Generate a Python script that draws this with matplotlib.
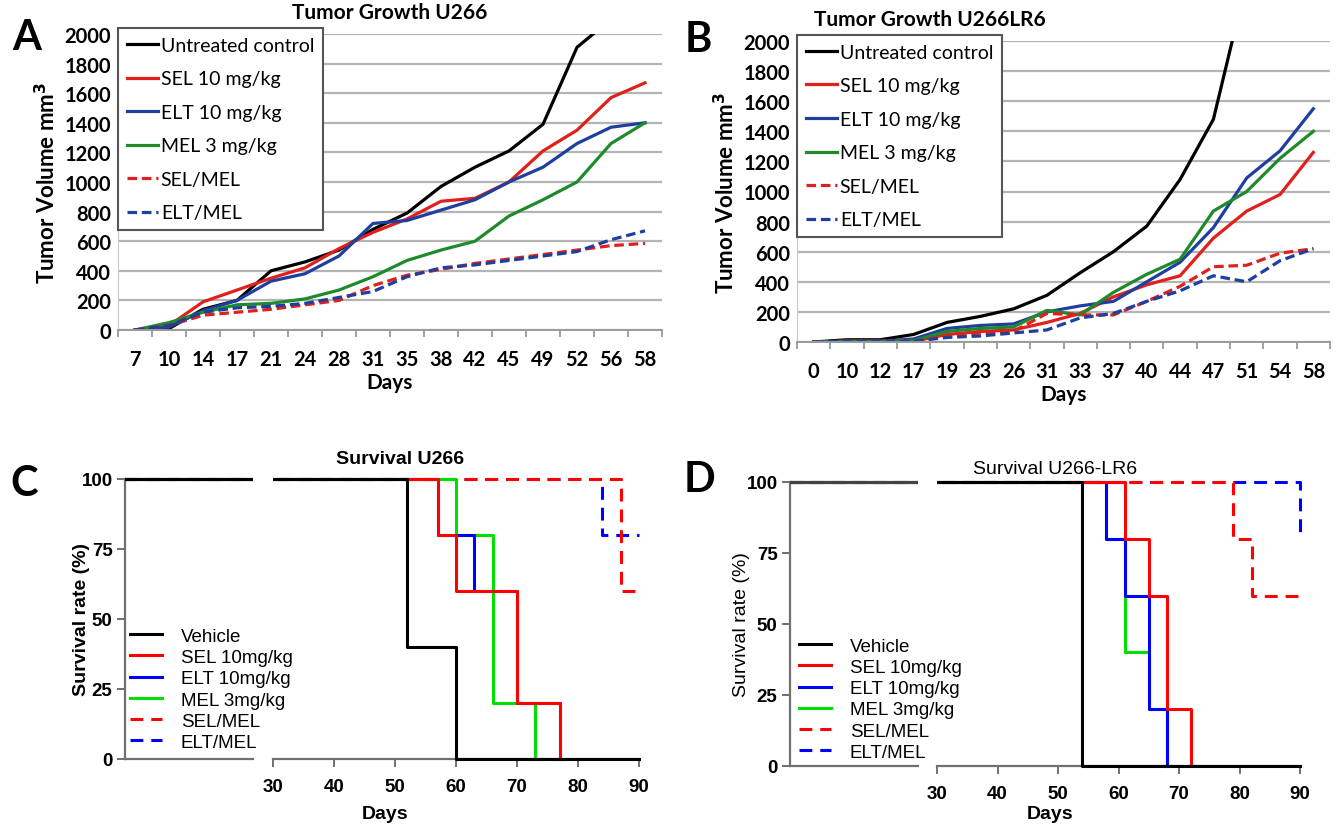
import numpy as np
import matplotlib
matplotlib.use("Agg")
import matplotlib.pyplot as plt
from matplotlib.lines import Line2D

# ---- tumor growth data ----
days_a = ['7', '10', '14', '17', '21', '24', '28', '31', '35', '38', '42', '45', '49', '52', '56', '58']
a_ctrl = [0, 10, 140, 200, 400, 460, 540, 680, 790, 970, 1100, 1210, 1390, 1910, 2100, 2400]
a_sel = [0, 30, 190, 270, 350, 420, 550, 660, 750, 870, 890, 1000, 1210, 1350, 1570, 1670]
a_elt = [0, 20, 130, 200, 330, 380, 500, 720, 740, 810, 880, 1000, 1100, 1260, 1370, 1400]
a_mel = [0, 50, 120, 170, 180, 210, 270, 360, 470, 540, 600, 770, 880, 1000, 1260, 1400]
a_selmel = [0, 30, 100, 120, 140, 170, 200, 300, 370, 410, 450, 480, 510, 540, 570, 585]
a_eltmel = [0, 30, 120, 150, 160, 180, 220, 260, 360, 420, 440, 470, 500, 530, 610, 670]

days_b = ['0', '10', '12', '17', '19', '23', '26', '31', '33', '37', '40', '44', '47', '51', '54', '58']
b_ctrl = [0, 15, 15, 50, 130, 170, 220, 310, 460, 600, 770, 1080, 1480, 2400, 2900, 3400]
b_sel = [0, 5, 5, 5, 50, 70, 80, 130, 190, 300, 380, 440, 690, 870, 980, 1260]
b_elt = [0, 5, 5, 20, 90, 110, 120, 200, 240, 270, 400, 530, 760, 1090, 1270, 1550]
b_mel = [0, 5, 5, 10, 70, 90, 100, 210, 180, 330, 450, 550, 870, 1000, 1220, 1400]
b_selmel = [0, 5, 5, 5, 40, 60, 70, 190, 180, 180, 270, 370, 500, 510, 590, 620]
b_eltmel = [0, 5, 5, 5, 30, 40, 60, 80, 160, 190, 270, 340, 440, 400, 540, 620]

growth_labels = ['Untreated control', 'SEL 10 mg/kg', 'ELT 10 mg/kg', 'MEL 3 mg/kg', 'SEL/MEL', 'ELT/MEL']

# ---- survival data (step curves: time, survival %) ----
c_veh_t, c_veh_s = [0, 52, 60, 90], [100, 40, 0, 0]
c_sel_t, c_sel_s = [0, 57, 60, 70, 77], [100, 80, 60, 20, 0]
c_elt_t, c_elt_s = [0, 57, 63, 70, 77], [100, 80, 60, 20, 0]
c_mel_t, c_mel_s = [0, 60, 66, 73], [100, 80, 20, 0]
c_selmel_t, c_selmel_s = [0, 87, 90], [100, 60, 60]
c_eltmel_t, c_eltmel_s = [0, 84, 90], [100, 80, 80]

d_veh_t, d_veh_s = [0, 54, 90], [100, 0, 0]
d_sel_t, d_sel_s = [0, 61, 65, 68, 72], [100, 80, 60, 20, 0]
d_elt_t, d_elt_s = [0, 58, 61, 65, 68], [100, 80, 60, 20, 0]
d_mel_t, d_mel_s = [0, 58, 61, 65, 68], [100, 80, 40, 20, 0]
d_selmel_t, d_selmel_s = [0, 79, 82, 90], [100, 80, 60, 60]
d_eltmel_t, d_eltmel_s = [0, 90], [100, 80]

surv_labels = ['Vehicle', 'SEL 10mg/kg', 'ELT 10mg/kg', 'MEL 3mg/kg', 'SEL/MEL', 'ELT/MEL']

W, H = 1340, 828
fig = plt.figure(figsize=(13.4, 8.28), dpi=100)


def fx(px):
    return px / W


def fy(py):
    return 1 - py / H


growth_styles = [
    dict(color='black', ls='-'),
    dict(color='#e0201c', ls='-'),
    dict(color='#1f3f9f', ls='-'),
    dict(color='#1e8a2a', ls='-'),
    dict(color='#e0201c', ls=(0, (3, 1.5))),
    dict(color='#1f3f9f', ls=(0, (3, 1.5))),
]


def growth_panel(rect, days, series, title, letter, letter_xy, title_xy):
    ax = fig.add_axes(rect)
    x = np.arange(len(days))
    for vals, st, lab in zip(series, growth_styles, growth_labels):
        ax.plot(x, vals, lw=2.3, label=lab, **st)
    ax.set_xlim(-0.5, len(days) - 0.5)
    ax.set_ylim(0, 2000)
    ax.set_yticks(np.arange(0, 2001, 200))
    ax.set_xticks(x)
    ax.set_xticklabels(days)
    ax.set_xticks(np.arange(-0.5, len(days), 1), minor=True)
    ax.grid(axis='y', color='#b4b4b4', lw=1.6)
    ax.set_axisbelow(True)
    for s in ['top', 'right']:
        ax.spines[s].set_visible(False)
    ax.spines['left'].set_color('#c8c8c8')
    ax.spines['bottom'].set_color('#9a9a9a')
    ax.spines['bottom'].set_linewidth(1.4)
    ax.tick_params(axis='x', which='major', length=0, pad=14, labelsize=14.5)
    ax.tick_params(axis='x', which='minor', length=5, color='#9a9a9a', width=1.3)
    ax.tick_params(axis='y', length=0, labelsize=14.5, pad=5)
    for t in ax.get_xticklabels() + ax.get_yticklabels():
        t.set_fontweight('bold')
        t.set_family('Lato')
    ax.set_xlabel('Days', fontsize=15, fontweight='bold', family='Lato', labelpad=2)
    ax.set_ylabel('Tumor Volume mm$^\\mathbf{3}$', fontsize=16, fontweight='bold', family='Lato', labelpad=4)
    leg = ax.legend(loc='upper left', bbox_to_anchor=(0.0, 1.02), frameon=True,
                    fancybox=False, edgecolor='#555555', framealpha=1, handlelength=1.6,
                    handletextpad=0.15, labelspacing=0.85, borderpad=0.45, borderaxespad=0,
                    prop=dict(family='Lato', size=14))
    leg.get_frame().set_linewidth(1.5)
    fig.text(fx(title_xy[0]), fy(title_xy[1]), title, ha='center', va='center', fontsize=15,
             fontweight='bold', family='Lato')
    fig.text(fx(letter_xy[0]), fy(letter_xy[1]), letter, ha='center', va='center', fontsize=30,
             fontweight='bold', family='Lato')
    return ax


growth_panel([fx(118), fy(331), fx(662 - 118), fy(35) - fy(331)], days_a,
             [a_ctrl, a_sel, a_elt, a_mel, a_selmel, a_eltmel],
             'Tumor Growth U266', 'A', (27, 38), (390, 13))
growth_panel([fx(797), fy(343), fx(1330 - 797), fy(42) - fy(343)], days_b,
             [b_ctrl, b_sel, b_elt, b_mel, b_selmel, b_eltmel],
             'Tumor Growth U266LR6', 'B', (698, 40), (930, 20))

surv_styles = [
    dict(color='black', ls='-'),
    dict(color='#ff0000', ls='-'),
    dict(color='#0000ff', ls='-'),
    dict(color='#00e000', ls='-'),
    dict(color='#ff0000', ls=(0, (4.2, 2.6))),
    dict(color='#0000ff', ls=(0, (4.2, 2.6))),
]
surv_z = [6, 5, 4, 3, 2, 1]


def survival_panel(y_axis_x, left_end, right_start, right_end, y100, y0, curves, title,
                   title_xy, title_bold, letter, letter_xy, leg_xy, days_xy, ylab_x, ylab_bold,
                   left_color):
    # y range padded a little so lines at 0 and 100 are not cut in half
    pad = 2.0
    xpad = 0.6
    span = (y0 - y100) * (100 + 2 * pad) / 100
    bottom_px = y0 + (y0 - y100) * pad / 100
    rect_h = fy(bottom_px - span) - fy(bottom_px)
    right_w = (right_end - right_start) * (60 + xpad) / 60
    axl = fig.add_axes([fx(y_axis_x), fy(bottom_px), fx(left_end - y_axis_x), rect_h])
    axr = fig.add_axes([fx(right_start), fy(bottom_px), fx(right_w), rect_h])
    handles = []
    for (t, s), st, lab, z in zip(curves, surv_styles, surv_labels, surv_z):
        for ax in (axl, axr):
            ax.step(t, s, where='post', lw=2.2, zorder=z, **st)
        handles.append(Line2D([], [], lw=2.2, **st))
    axl.lines[0].set_color(left_color)
    axl.set_xlim(0, 25)
    axr.set_xlim(30, 90 + xpad)
    for ax in (axl, axr):
        ax.set_ylim(-pad, 100 + pad)
        ax.patch.set_visible(False)
        for s in ['top', 'right']:
            ax.spines[s].set_visible(False)
        ax.spines['bottom'].set_position(('data', 0))
        ax.spines['bottom'].set_color('#707070')
        ax.spines['bottom'].set_linewidth(1.6)
        ax.spines['bottom'].set_zorder(0)
    axr.spines['bottom'].set_bounds(30, 90)
    axl.spines['left'].set_color('#707070')
    axl.spines['left'].set_linewidth(1.6)
    axl.spines['left'].set_bounds(0, 100)
    axl.set_xticks([])
    axl.set_yticks([0, 25, 50, 75, 100])
    axl.tick_params(axis='y', length=6, width=1.4, color='#707070', labelsize=13.5, pad=3)
    axr.spines['left'].set_visible(False)
    axr.set_yticks([])
    axr.set_xticks(np.arange(30, 91, 10))
    axr.tick_params(axis='x', length=6, width=1.4, color='#707070', labelsize=13.5, pad=8)
    for t in axl.get_yticklabels() + axr.get_xticklabels():
        t.set_fontweight('bold')
        t.set_family('Liberation Sans')
    axl.legend(handles, surv_labels, loc='lower left', bbox_to_anchor=(fx(leg_xy[0]), fy(leg_xy[1])),
               bbox_transform=fig.transFigure, frameon=False, handlelength=1.7,
               handletextpad=1.0, labelspacing=0.22, borderpad=0, borderaxespad=0,
               prop=dict(family='Liberation Sans', size=13.5))
    fig.text(fx(ylab_x), fy((y100 + y0) / 2), 'Survival rate (%)', rotation=90, ha='center',
             va='center', fontsize=14, family='Liberation Sans',
             fontweight='bold' if ylab_bold else 'normal')
    fig.text(fx(days_xy[0]), fy(days_xy[1]), 'Days', ha='center', va='center', fontsize=14,
             fontweight='bold', family='Liberation Sans')
    fig.text(fx(title_xy[0]), fy(title_xy[1]), title, ha='center', va='center', fontsize=14,
             fontweight='bold' if title_bold else 'normal', family='Liberation Sans')
    fig.text(fx(letter_xy[0]), fy(letter_xy[1]), letter, ha='center', va='center', fontsize=30,
             fontweight='bold', family='Lato')


survival_panel(125, 253, 273, 639, 480, 760,
               [(c_veh_t, c_veh_s), (c_sel_t, c_sel_s), (c_elt_t, c_elt_s), (c_mel_t, c_mel_s),
                (c_selmel_t, c_selmel_s), (c_eltmel_t, c_eltmel_s)],
               'Survival U266', (400, 460), True, 'C', (24, 484), (130, 752), (385, 815), 82, True,
               'black')
survival_panel(790, 918, 937, 1300, 483, 767,
               [(d_veh_t, d_veh_s), (d_sel_t, d_sel_s), (d_elt_t, d_elt_s), (d_mel_t, d_mel_s),
                (d_selmel_t, d_selmel_s), (d_eltmel_t, d_eltmel_s)],
               'Survival U266-LR6', (1055, 470), False, 'D', (700, 480), (799, 762), (1050, 815), 742, False,
               '#444444')

fig.savefig('out.png', dpi=100)
